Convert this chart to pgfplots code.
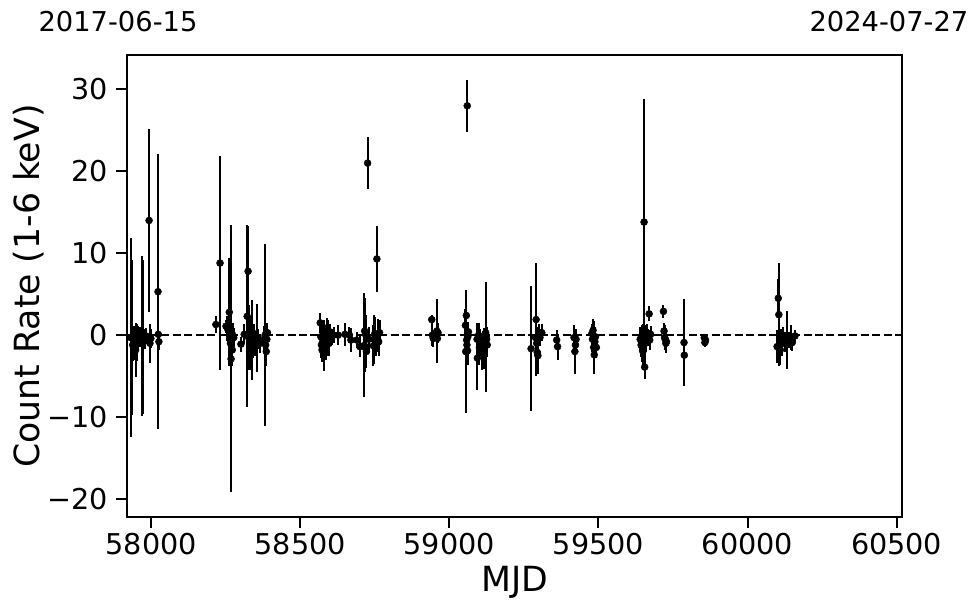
\documentclass[border=0pt]{standalone}
\usepackage{fontspec}
\setmainfont{DejaVu Sans}
\usepackage{pgfplots}
\pgfplotsset{compat=1.18}
\begin{document}
\begin{tikzpicture}
\begin{axis}[
  scale only axis,
  width=581.25pt, height=346.5pt,
  xmin=57919, xmax=60518,
  ymin=-22.2, ymax=34.2,
  axis line style={line width=0.8pt},
  scaled x ticks=false, scaled y ticks=false,
  xtick={58000,58500,59000,59500,60000,60500},
  xticklabels={58000,58500,59000,59500,60000,60500},
  ytick={-20,-10,0,10,20,30},
  yticklabels={−20,−10,0,10,20,30},
  xtick pos=bottom, ytick pos=left,
  tick align=outside,
  major tick length=8pt,
  every tick/.style={black, line width=1.5pt},
  tick label style={font=\fontsize{21.5}{25}\selectfont},
  xticklabel style={yshift=-1pt},
  yticklabel style={xshift=-3pt},
  xlabel={MJD},
  ylabel={Count Rate (1-6 keV)},
  label style={font=\fontsize{26}{30}\selectfont},
  xlabel style={at={(axis description cs:0.5,-0.141)}, anchor=center},
  ylabel style={at={(axis description cs:-0.127,0.5)}, anchor=center},
  clip mode=individual,
]
\addplot[black, dashed, line width=1.1pt, dash pattern=on 6pt off 2.6pt, forget plot] coordinates {(57919,0) (60518,0)};
\addplot[only marks, mark=*, mark size=2.6pt, black,
  error bars/.cd, y dir=both, y explicit, error mark=none,
  error bar style={line width=1.5pt, black}]
coordinates {
(57931,-0.3) +- (0,12.1)
(57935,-0.3) +- (0,9.5)
(57938,-1.2) +- (0,2.0)
(57941,-0.5) +- (0,1.6)
(57944,-1.5) +- (0,1.5)
(57948,-1.8) +- (0,3.3)
(57951,-0.6) +- (0,1.8)
(57953,-0.9) +- (0,2.2)
(57957,-0.4) +- (0,1.5)
(57962,-0.2) +- (0,1.2)
(57968,-0.1) +- (0,9.8)
(57971,-0.2) +- (0,9.4)
(57974,0.1) +- (0,1.5)
(57978,-0.5) +- (0,1.2)
(57984,-0.1) +- (0,1.0)
(57993,14.0) +- (0,11.2)
(57996,-1.0) +- (0,2.4)
(57999,-0.4) +- (0,1.2)
(58023,5.3) +- (0,16.8)
(58024,0.1) +- (0,1.0)
(58026,-0.8) +- (0,1.0)
(58217,1.3) +- (0,1.0)
(58231,8.8) +- (0,13.1)
(58251,1.1) +- (0,0.8)
(58256,0.8) +- (0,1.5)
(58262,2.8) +- (0,6.6)
(58264,-0.5) +- (0,3.0)
(58266,-1.0) +- (0,2.5)
(58268,-2.9) +- (0,16.3)
(58270,-0.6) +- (0,2.0)
(58272,-1.8) +- (0,2.0)
(58274,0.0) +- (0,1.5)
(58277,-0.3) +- (0,1.2)
(58301,-1.1) +- (0,0.9)
(58312,0.1) +- (0,1.2)
(58322,2.3) +- (0,11.1)
(58325,7.8) +- (0,5.5)
(58327,-0.3) +- (0,4.0)
(58331,0.3) +- (0,2.0)
(58333,-1.7) +- (0,2.5)
(58335,0.0) +- (0,1.5)
(58337,-0.6) +- (0,4.9)
(58340,-0.8) +- (0,2.0)
(58344,0.2) +- (0,1.2)
(58348,-1.0) +- (0,1.5)
(58354,-0.35) +- (0,4.15)
(58358,-0.5) +- (0,1.2)
(58365,-1.0) +- (0,1.2)
(58380,-0.4) +- (0,1.5)
(58382,0.0) +- (0,11.1)
(58384,-1.2) +- (0,1.8)
(58386,-2.0) +- (0,1.8)
(58388,-0.5) +- (0,1.5)
(58390,0.3) +- (0,1.2)
(58567,1.5) +- (0,1.2)
(58569,-0.2) +- (0,1.5)
(58571,-1.2) +- (0,1.6)
(58573,-1.8) +- (0,1.5)
(58575,-0.8) +- (0,2.0)
(58578,-1.4) +- (0,3.0)
(58581,0.3) +- (0,1.5)
(58584,-0.5) +- (0,1.5)
(58587,-1.8) +- (0,1.2)
(58590,0.9) +- (0,1.2)
(58593,-0.4) +- (0,2.2)
(58597,-1.0) +- (0,1.5)
(58600,0.4) +- (0,1.0)
(58605,-0.2) +- (0,1.0)
(58612,0.0) +- (0,1.0)
(58627,0.0) +- (0,1.2)
(58650,0.1) +- (0,1.4)
(58665,0.0) +- (0,1.0)
(58670,-0.6) +- (0,1.5)
(58690,-0.6) +- (0,1.0)
(58700,-1.4) +- (0,1.3)
(58715,-1.25) +- (0,6.35)
(58716,0.5) +- (0,4.0)
(58718,-1.5) +- (0,3.0)
(58720,0.0) +- (0,2.5)
(58722,-2.0) +- (0,2.0)
(58726,21.0) +- (0,3.2)
(58730,-0.5) +- (0,1.5)
(58745,-1.3) +- (0,2.5)
(58748,-0.5) +- (0,3.0)
(58750,0.2) +- (0,2.0)
(58753,-1.0) +- (0,1.5)
(58757,9.3) +- (0,4.0)
(58760,0.0) +- (0,2.0)
(58763,-0.8) +- (0,1.8)
(58766,0.3) +- (0,1.5)
(58941,1.9) +- (0,0.5)
(58943,0.0) +- (0,1.3)
(58946,-0.4) +- (0,1.0)
(58958,0.5) +- (0,3.9)
(58960,-0.4) +- (0,1.0)
(58962,0.3) +- (0,1.2)
(59054,1.2) +- (0,2.0)
(59055,-2.0) +- (0,7.5)
(59057,2.4) +- (0,3.0)
(59058,-0.6) +- (0,2.0)
(59059,-1.2) +- (0,2.5)
(59060,28.0) +- (0,3.2)
(59061,-1.9) +- (0,1.8)
(59062,-0.2) +- (0,1.5)
(59064,0.4) +- (0,1.2)
(59093,-0.5) +- (0,2.0)
(59094,-2.8) +- (0,3.9)
(59098,0.0) +- (0,1.5)
(59101,-1.5) +- (0,2.2)
(59104,-0.8) +- (0,1.5)
(59108,-2.2) +- (0,2.0)
(59112,-1.0) +- (0,1.5)
(59115,-1.6) +- (0,2.5)
(59123,-0.2) +- (0,6.7)
(59122,0.3) +- (0,1.2)
(59125,-0.5) +- (0,1.5)
(59127,-1.2) +- (0,1.5)
(59274,-1.65) +- (0,7.65)
(59289,-0.3) +- (0,1.5)
(59291,1.9) +- (0,6.9)
(59293,-1.0) +- (0,2.0)
(59295,-2.1) +- (0,2.5)
(59297,-2.5) +- (0,2.2)
(59300,0.2) +- (0,1.2)
(59304,-0.3) +- (0,1.0)
(59310,0.3) +- (0,1.0)
(59360,-0.6) +- (0,1.2)
(59363,-1.4) +- (0,1.6)
(59418,-0.3) +- (0,1.5)
(59421,-2.0) +- (0,2.8)
(59423,-1.2) +- (0,2.0)
(59425,-0.5) +- (0,1.2)
(59478,0.2) +- (0,1.2)
(59480,-0.5) +- (0,1.5)
(59482,0.6) +- (0,1.4)
(59484,-1.5) +- (0,3.2)
(59486,-2.4) +- (0,2.0)
(59488,-0.8) +- (0,1.5)
(59490,-0.2) +- (0,1.2)
(59493,-1.5) +- (0,1.3)
(59640,-0.5) +- (0,1.5)
(59643,-1.2) +- (0,1.5)
(59645,-0.8) +- (0,2.0)
(59647,-1.5) +- (0,1.8)
(59649,-2.0) +- (0,2.0)
(59651,-0.3) +- (0,1.6)
(59653,13.8) +- (0,15.0)
(59655,-3.9) +- (0,1.5)
(59657,-1.0) +- (0,2.0)
(59659,0.0) +- (0,1.2)
(59661,-0.5) +- (0,1.5)
(59663,0.2) +- (0,1.2)
(59666,-0.3) +- (0,1.0)
(59670,2.6) +- (0,0.9)
(59672,-0.6) +- (0,1.2)
(59675,0.1) +- (0,1.0)
(59718,2.9) +- (0,0.8)
(59720,0.5) +- (0,1.0)
(59722,-0.3) +- (0,1.5)
(59724,-0.5) +- (0,1.0)
(59726,-1.0) +- (0,1.2)
(59728,-0.8) +- (0,1.4)
(59787,-0.9) +- (0,5.3)
(59788,-2.45) +- (0,1.5)
(59855,-0.3) +- (0,0.5)
(59857,-0.9) +- (0,0.6)
(59859,-0.6) +- (0,0.5)
(60099,-1.4) +- (0,2.0)
(60103,4.5) +- (0,2.4)
(60105,2.5) +- (0,6.3)
(60108,-0.8) +- (0,1.5)
(60110,-1.8) +- (0,1.8)
(60113,-0.4) +- (0,1.2)
(60117,-1.0) +- (0,1.5)
(60120,0.0) +- (0,1.0)
(60125,-0.8) +- (0,1.2)
(60131,-0.6) +- (0,3.5)
(60138,-0.6) +- (0,1.0)
(60146,-0.3) +- (0,1.5)
(60150,-0.9) +- (0,1.0)
(60159,-0.1) +- (0,0.7)
};
\node[font=\fontsize{20.5}{24}\selectfont, anchor=center] at (axis description cs:-0.0116,1.0714) {2017-06-15};
\node[font=\fontsize{20.5}{24}\selectfont, anchor=center] at (axis description cs:0.9832,1.0714) {2024-07-27};
\end{axis}
\path ([xshift=-95.25pt,yshift=-72pt]current axis.south west) rectangle ([xshift=58.5pt,yshift=41.25pt]current axis.north east);
\end{tikzpicture}
\end{document}
